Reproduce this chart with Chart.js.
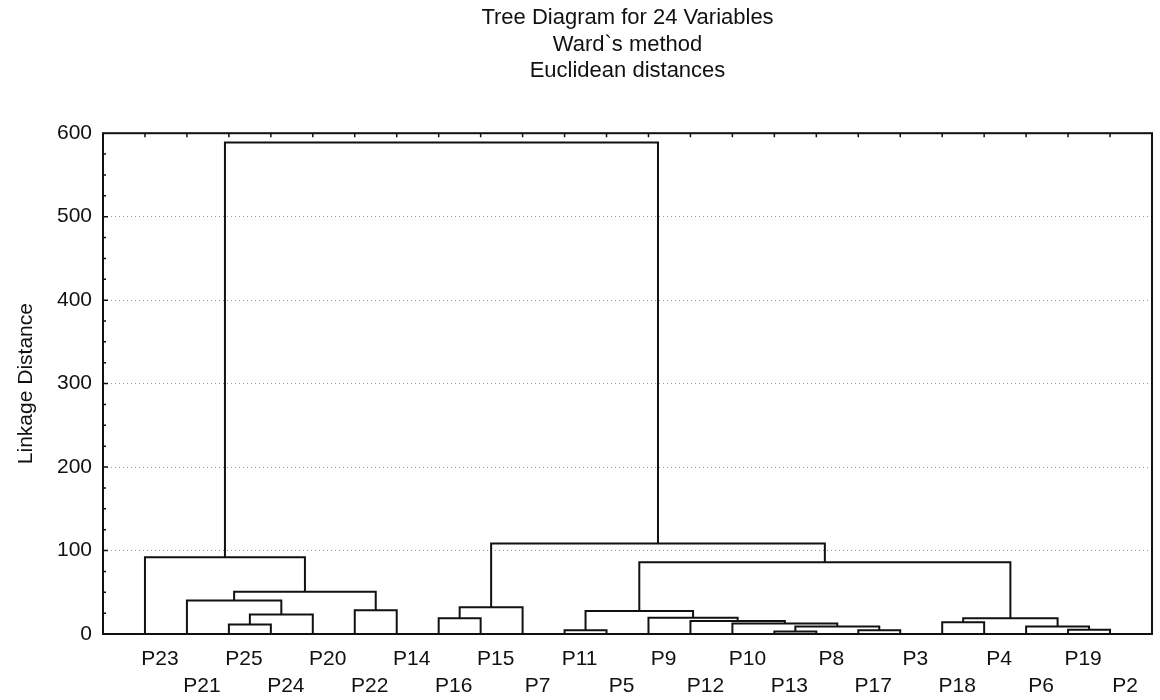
<!DOCTYPE html>
<html>
<head>
<meta charset="utf-8">
<title>Tree Diagram for 24 Variables</title>
<script src="https://cdn.jsdelivr.net/npm/chart.js@4.4.0/dist/chart.umd.min.js"></script>
<style>
  html, body { margin: 0; padding: 0; background: #fff; }
  #wrap { width: 1160px; height: 700px; }
</style>
</head>
<body>
<div id="wrap"><canvas id="treeChart"></canvas></div>
<script>
// Leaf order along the bottom axis
const leafLabels = ['P23', 'P21', 'P25', 'P24', 'P20', 'P22', 'P14', 'P16', 'P15', 'P7', 'P11', 'P5',
                    'P9', 'P12', 'P10', 'P13', 'P8', 'P17', 'P3', 'P18', 'P4', 'P6', 'P19', 'P2'];

// Linkage steps in order: a name is a leaf, a number is an earlier step
const joinLeft   = ['P13', 'P11', 'P17', 'P19', 'P6', 0, 'P25', 'P10', 'P18', 'P12', 'P16', 8,
                    'P9', 6, 1, 'P22', 10, 'P21', 17, 14, 'P23', 16, 20];
const joinRight  = ['P8', 'P5', 'P3', 'P2', 3, 2, 'P24', 5, 'P4', 7, 'P15', 4,
                    9, 'P20', 12, 'P14', 'P7', 13, 15, 11, 18, 19, 21];
const joinHeight = [3, 4.5, 4.5, 5, 9, 9, 11.5, 12.5, 14, 15.5, 19, 19,
                    19.5, 23.5, 27.5, 28.5, 32, 40, 50.5, 86, 92, 108.5, 589];

const yTicks = [0, 100, 200, 300, 400, 500, 600];

const titleLines = ['Tree Diagram for 24 Variables', 'Ward`s method', 'Euclidean distances'];

// x position of a node = leaf index, or centre of the step it refers to
const stepX = [];
function nodeX(ref) {
    return typeof ref === 'string' ? leafLabels.indexOf(ref) : stepX[ref];
}
function nodeY(ref) {
    return typeof ref === 'string' ? 0 : joinHeight[ref];
}

// One bracket per linkage step
const links = joinHeight.map(function(h, k) {
    const xl = nodeX(joinLeft[k]);
    const xr = nodeX(joinRight[k]);
    stepX[k] = (xl + xr) / 2;
    return {
        data: [
            { x: xl, y: nodeY(joinLeft[k]) },
            { x: xl, y: h },
            { x: xr, y: h },
            { x: xr, y: nodeY(joinRight[k]) }
        ],
        showLine: true,
        borderColor: '#111',
        borderWidth: 2,
        pointRadius: 0,
        tension: 0,
        fill: false,
        clip: false
    };
});

// Plot frame with inward ticks
const framePlugin = {
    id: 'frame',
    afterDatasetsDraw(chart) {
        const { ctx, chartArea: a, scales: { x, y } } = chart;
        ctx.save();
        ctx.strokeStyle = '#111';
        ctx.lineWidth = 2;
        ctx.strokeRect(a.left, a.top, a.right - a.left, a.bottom - a.top);

        ctx.lineWidth = 1.5;
        ctx.beginPath();
        for (let v = 25; v < 600; v += 25) {
            const py = y.getPixelForValue(v);
            ctx.moveTo(a.left, py);
            ctx.lineTo(a.left + (v % 100 ? 3 : 5), py);
        }
        leafLabels.forEach(function(_, i) {
            const px = x.getPixelForValue(i);
            ctx.moveTo(px, a.top);
            ctx.lineTo(px, a.top + 4);
        });
        ctx.stroke();
        ctx.restore();
    }
};

Chart.defaults.font.family = "'Liberation Sans', Arial, sans-serif";
Chart.defaults.color = '#111';

new Chart(document.getElementById('treeChart'), {
    type: 'scatter',
    data: { datasets: links },
    options: {
        responsive: true,
        maintainAspectRatio: false,
        animation: false,
        layout: { padding: { left: 0, right: 8, top: 0, bottom: 0 } },
        scales: {
            x: {
                type: 'linear',
                min: -1,
                max: 24,
                afterBuildTicks: function(scale) {
                    scale.ticks = leafLabels.map(function(_, i) { return { value: i }; });
                },
                afterFit: function(scale) { scale.height = 66; },
                grid: { display: false },
                border: { display: false },
                ticks: {
                    autoSkip: false,
                    maxRotation: 0,
                    minRotation: 0,
                    labelOffset: 15,
                    padding: 4,
                    font: { size: 21, lineHeight: 1.27 },
                    callback: function(value) {
                        const name = leafLabels[value];
                        return value % 2 === 0 ? [name, ''] : ['', name];
                    }
                }
            },
            y: {
                min: 0,
                max: 600,
                afterBuildTicks: function(scale) {
                    scale.ticks = yTicks.map(function(v) { return { value: v }; });
                },
                afterFit: function(scale) { scale.width = 103; },
                grid: {
                    drawTicks: false,
                    lineWidth: 1,
                    color: function(c) {
                        const v = c.tick ? c.tick.value : null;
                        return (v === 0 || v === 600) ? 'rgba(0,0,0,0)' : 'rgba(0,0,0,0.4)';
                    }
                },
                border: { display: false, dash: [1, 3] },
                ticks: {
                    padding: 11,
                    font: { size: 21 }
                },
                title: {
                    display: true,
                    text: 'Linkage Distance',
                    font: { size: 21 },
                    padding: { top: 14, bottom: 0 }
                }
            }
        },
        plugins: {
            legend: { display: false },
            tooltip: { enabled: false },
            title: {
                display: true,
                text: titleLines,
                fullSize: false,
                color: '#111',
                font: { size: 22, weight: 'normal', lineHeight: 1.2 },
                padding: { top: 5, bottom: 49 }
            }
        }
    },
    plugins: [framePlugin]
});
</script>
</body>
</html>
